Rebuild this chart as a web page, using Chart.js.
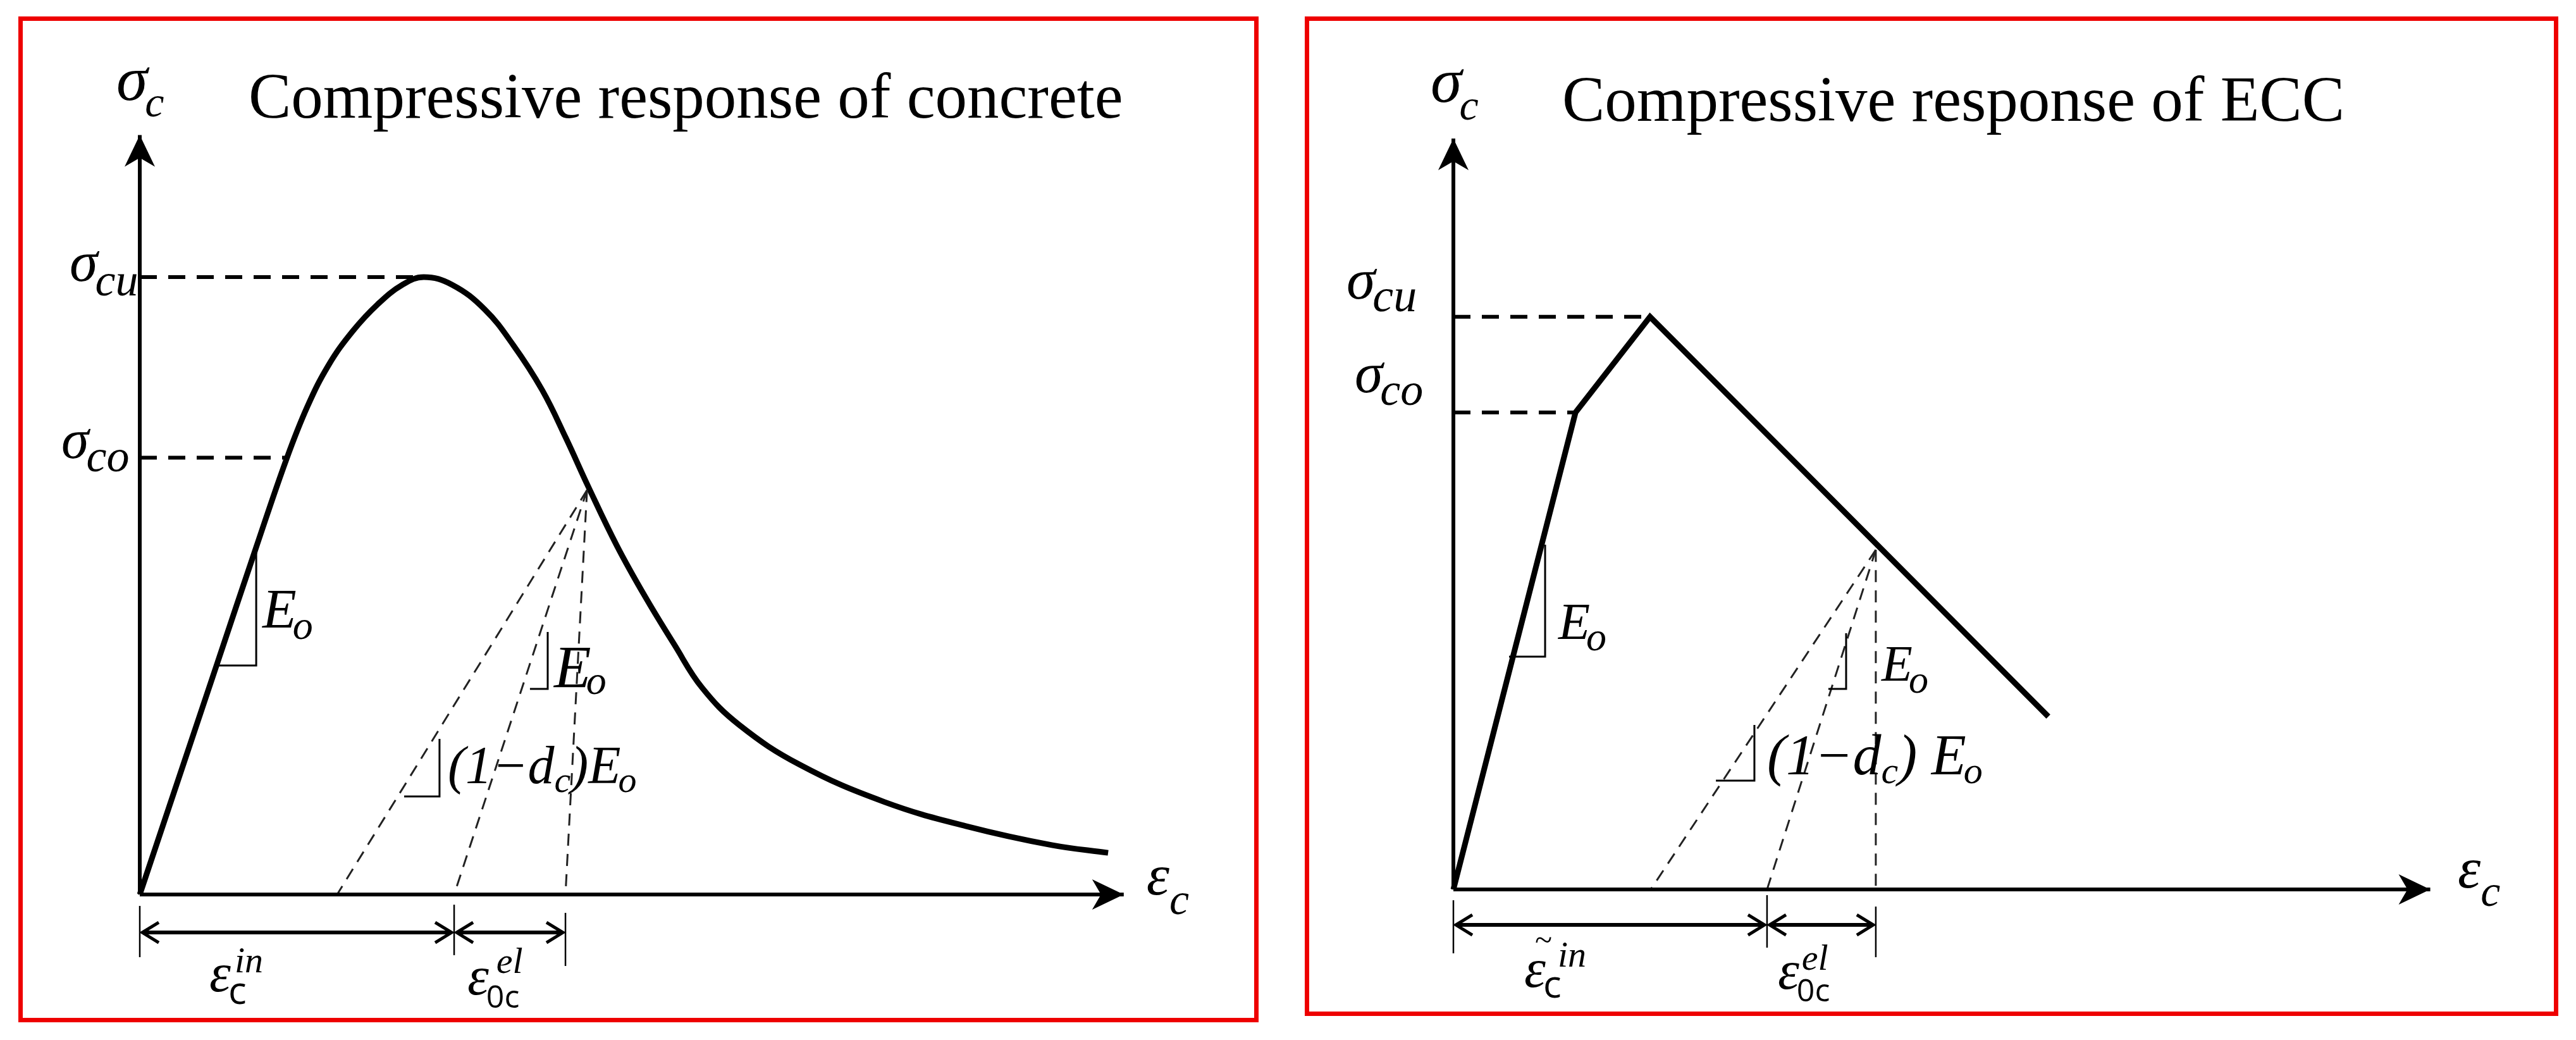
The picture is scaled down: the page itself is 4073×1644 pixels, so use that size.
<!DOCTYPE html>
<html><head><meta charset="utf-8">
<script src="https://cdn.jsdelivr.net/npm/chart.js@4.4.1/dist/chart.umd.min.js"></script>
<style>
html,body{margin:0;padding:0;background:#fff;width:4073px;height:1644px;overflow:hidden}
.frame{position:absolute;border:7px solid #ee0000;box-sizing:border-box}
canvas{position:absolute;top:0}
</style></head><body>
<div class="frame" style="left:29px;top:26px;width:1961px;height:1590px"></div>
<div class="frame" style="left:2063px;top:26px;width:1982px;height:1580px"></div>
<canvas id="cConc" width="2040" height="1644" style="left:0"></canvas>
<canvas id="cEcc" width="2033" height="1644" style="left:2040px"></canvas>
<script>
// ---------------- DATA (strain in ‰-like units, stress in MPa-like units) ----------------
const concStrain = [0, 0.55, 0.82, 1.033, 1.18, 1.33, 1.5, 1.677, 1.85, 2.0, 2.2, 2.43, 2.63, 2.833, 3.0, 3.16, 3.36, 3.559, 3.764, 3.96, 4.22, 4.65, 5.243, 5.831, 6.423, 6.82];
const concStress = [0, 15.1, 22.5, 28.2, 31.6, 34.3, 36.5, 38.25, 39.5, 40.0, 39.5, 37.9, 35.6, 32.7, 29.6, 26.4, 22.6, 19.3, 16.2, 13.4, 11.0, 8.4, 6.0, 4.4, 3.2, 2.7];
const concPeak = [2.0, 40.0];          // (eps at sigma_cu, sigma_cu)
const concYield = [1.033, 28.3];       // (eps at sigma_co, sigma_co)
const concUnload = [3.15, 26.2];       // unloading point on softening branch
const concUnloadEnds = [1.39, 2.214, 2.998]; // axis intercepts: damaged, E0 (inelastic), vertical guide
const concAxisEnd = [6.93, 49.2];

const eccStrain = [0, 0.86, 1.385, 4.19];
const eccStress = [0, 30.9, 37.1, 11.2];
const eccPeak = [1.385, 37.1];
const eccYield = [0.86, 30.9];
const eccUnload = [2.975, 22.0];
const eccUnloadEnds = [1.39, 2.209, 2.975];
const eccAxisEnd = [6.88, 48.65];

const titles = ['Compressive response of concrete', 'Compressive response of ECC'];

// ---------------- helpers ----------------
const K = 224.5, M = 24.4; // px per strain unit, px per stress unit
const SERIF = '"Liberation Serif","Times New Roman",serif';
const SANS = '"Open Sans","DejaVu Sans",sans-serif';
const it = s => `italic ${s}px ${SERIF}`;
const rm = s => `${s}px ${SERIF}`;
const sn = s => `${s}px ${SANS}`;

function scalesFor(ox, oy, left, W, H) {
  const xmin = -(ox - left) / K, ymax = oy / M;
  return {
    x: {type: 'linear', display: false, min: xmin, max: xmin + W / K},
    y: {type: 'linear', display: false, min: ymax - H / M, max: ymax}
  };
}
const pts = (xs, ys) => xs.map((x, i) => ({x, y: ys[i]}));
function ds(data, extra) {
  return Object.assign({data, showLine: true, pointRadius: 0, borderColor: '#000', backgroundColor: '#000',
    fill: false, clip: false, borderWidth: 6, tension: 0}, extra || {});
}
function buildDatasets(strain, stress, peak, yieldP, unload, ends, axisEnd, curved) {
  const arr = [];
  arr.push(ds([{x: 0, y: 0}, {x: axisEnd[0], y: 0}], {borderWidth: 6}));
  arr.push(ds([{x: 0, y: 0}, {x: 0, y: axisEnd[1]}], {borderWidth: 6}));
  arr.push(ds([{x: 0, y: peak[1]}, {x: peak[0] - 0.02, y: peak[1]}], {borderWidth: 6, borderDash: [27, 18]}));
  arr.push(ds([{x: 0, y: yieldP[1]}, {x: yieldP[0], y: yieldP[1]}], {borderWidth: 6, borderDash: [27, 18]}));
  ends.forEach(e => arr.push(ds([{x: unload[0], y: unload[1]}, {x: e, y: 0}], {borderWidth: 3, borderColor: '#222', borderDash: [19, 13]})));
  arr.push(ds(pts(strain, stress), curved ? {borderWidth: 9, tension: 0.4} : {borderWidth: 9, borderJoinStyle: 'miter'}));
  return arr;
}

function drawRich(ctx, x, y, segs) {
  let cx = x, prevStart = x;
  ctx.textBaseline = 'alphabetic';
  ctx.textAlign = 'left';
  segs.forEach(s => {
    ctx.font = s.f;
    const start = s.stack ? prevStart + (s.dx || 0) : cx + (s.dx || 0);
    ctx.fillText(s.t, start, y + (s.dy || 0));
    const end = start + ctx.measureText(s.t).width;
    prevStart = start;
    cx = s.stack ? Math.max(cx, end) : end;
  });
}

const annotPlugin = {
  id: 'annot',
  afterDatasetsDraw(chart, args, o) {
    const ctx = chart.ctx, X = v => chart.scales.x.getPixelForValue(v), Y = v => chart.scales.y.getPixelForValue(v);
    ctx.save();
    ctx.fillStyle = '#000'; ctx.strokeStyle = '#000';
    // axis arrowheads (stealth)
    const head = (tx, ty, dx, dy) => {
      const L = 50, Wd = 24, px = -dy, py = dx;
      ctx.beginPath();
      ctx.moveTo(tx, ty);
      ctx.lineTo(tx - dx * L + px * Wd, ty - dy * L + py * Wd);
      ctx.lineTo(tx - dx * L * 0.72, ty - dy * L * 0.72);
      ctx.lineTo(tx - dx * L - px * Wd, ty - dy * L - py * Wd);
      ctx.closePath(); ctx.fill();
    };
    head(X(o.axisEnd[0]), Y(0), 1, 0);
    head(X(0), Y(o.axisEnd[1]), 0, -1);
    // slope triangles
    ctx.lineWidth = 3; ctx.lineCap = 'butt'; ctx.lineJoin = 'miter';
    o.triangles.forEach(t => {
      ctx.beginPath();
      t.forEach((p, i) => i ? ctx.lineTo(X(p[0]), Y(p[1])) : ctx.moveTo(X(p[0]), Y(p[1])));
      ctx.stroke();
    });
    // dimension arrows
    const d = o.dims, yy = Y(d.y);
    ctx.lineWidth = 2.5;
    d.stops.forEach((s, i) => {
      ctx.beginPath(); ctx.moveTo(X(s), Y(d.ticks[i][0])); ctx.lineTo(X(s), Y(d.ticks[i][1])); ctx.stroke();
    });
    const chev = (tx, dir) => {
      ctx.beginPath();
      ctx.moveTo(tx - dir * 26, yy - 16); ctx.lineTo(tx, yy); ctx.lineTo(tx - dir * 26, yy + 16);
      ctx.stroke();
    };
    for (let i = 0; i < d.stops.length - 1; i++) {
      const a = X(d.stops[i]) + 4, b = X(d.stops[i + 1]) - 4;
      ctx.lineWidth = 6;
      ctx.beginPath(); ctx.moveTo(a, yy); ctx.lineTo(b, yy); ctx.stroke();
      ctx.lineWidth = 5;
      chev(a, -1); chev(b, 1);
    }
    // text
    o.labels.forEach(l => drawRich(ctx, X(l.x), Y(l.y), l.segs));
    ctx.restore();
  }
};

function makeChart(id, left, W, ox, oy, dsets, annot) {
  return new Chart(document.getElementById(id), {
    type: 'scatter',
    data: {datasets: dsets},
    options: {
      responsive: false, animation: false, devicePixelRatio: 1, events: [],
      layout: {padding: 0},
      scales: scalesFor(ox, oy, left, W, 1644),
      plugins: {legend: {display: false}, tooltip: {enabled: false}, annot}
    },
    plugins: [annotPlugin]
  });
}

// ---------------- concrete ----------------
makeChart('cConc', 0, 2040, 221, 1414,
  buildDatasets(concStrain, concStress, concPeak, concYield, concUnload, concUnloadEnds, concAxisEnd, true),
  {
    axisEnd: concAxisEnd,
    triangles: [
      [[0.535, 14.84], [0.82, 14.84], [0.82, 22.46]],
      [[2.748, 13.32], [2.873, 13.32], [2.873, 17.01]],
      [[1.862, 6.35], [2.111, 6.35], [2.111, 10.08]]
    ],
    dims: {y: -2.46, stops: [0, concUnloadEnds[1], concUnloadEnds[2]], ticks: [[-0.74, -4.06], [-0.66, -3.93], [-1.19, -4.63]]},
    labels: [
      {x: -0.165, y: 51.48, segs: [{t: 'σ', f: it(100)}, {t: 'c', f: it(68), dy: 26, dx: -4}]},
      {x: 0.766, y: 50.33, segs: [{t: titles[0], f: rm(101)}]},
      {x: -0.494, y: 39.75, segs: [{t: 'σ', f: it(90)}, {t: 'cu', f: it(72), dy: 23, dx: -4}]},
      {x: -0.552, y: 28.28, segs: [{t: 'σ', f: it(88)}, {t: 'co', f: it(72), dy: 21, dx: -4}]},
      {x: 0.864, y: 17.30, segs: [{t: 'E', f: it(88)}, {t: 'o', f: it(64), dy: 18, dx: -6}]},
      {x: 2.918, y: 13.40, segs: [{t: 'E', f: it(96)}, {t: 'o', f: it(64), dy: 10, dx: -8}]},
      {x: 2.169, y: 7.21, segs: [{t: '(1−d', f: it(84)}, {t: 'c', f: it(58), dy: 14}, {t: ')E', f: it(84)}, {t: 'o', f: it(58), dy: 14, dx: -4}]},
      {x: 7.09, y: 0, segs: [{t: 'ε', f: it(92)}, {t: 'c', f: it(70), dy: 31}]},
      {x: 0.490, y: -6.27, segs: [{t: 'ε', f: it(86)}, {t: 'c', f: sn(60), dy: 20, dx: -4}, {t: 'in', f: it(58), dy: -30, stack: true, dx: 10}]},
      {x: 2.307, y: -6.48, segs: [{t: 'ε', f: it(86)}, {t: '0c', f: sn(50), dy: 21, dx: -4}, {t: 'el', f: it(58), dy: -34, stack: true, dx: 16}]}
    ]
  });

// ---------------- ECC ----------------
makeChart('cEcc', 2040, 2033, 2298, 1406,
  buildDatasets(eccStrain, eccStress, eccPeak, eccYield, eccUnload, eccUnloadEnds, eccAxisEnd, false),
  {
    axisEnd: eccAxisEnd,
    triangles: [
      [[0.392, 15.08], [0.646, 15.08], [0.646, 22.34]],
      [[2.641, 12.99], [2.766, 12.99], [2.766, 16.60]],
      [[1.849, 7.05], [2.120, 7.05], [2.120, 10.66]]
    ],
    dims: {y: -2.30, stops: [0, eccUnloadEnds[1], eccUnloadEnds[2]], ticks: [[-0.70, -4.14], [-0.37, -3.77], [-1.11, -4.39]]},
    labels: [
      {x: -0.160, y: 51.02, segs: [{t: 'σ', f: it(100)}, {t: 'c', f: it(68), dy: 28, dx: -4}]},
      {x: 0.766, y: 49.80, segs: [{t: titles[1], f: rm(101)}]},
      {x: -0.753, y: 38.28, segs: [{t: 'σ', f: it(92)}, {t: 'cu', f: it(74), dy: 20, dx: -4}]},
      {x: -0.695, y: 32.21, segs: [{t: 'σ', f: it(90)}, {t: 'co', f: it(72), dy: 20, dx: -4}]},
      {x: 0.739, y: 16.23, segs: [{t: 'E', f: it(82)}, {t: 'o', f: it(64), dy: 18, dx: -6}]},
      {x: 3.016, y: 13.52, segs: [{t: 'E', f: it(80)}, {t: 'o', f: it(62), dy: 19, dx: -6}]},
      {x: 2.209, y: 7.46, segs: [{t: '(1−d', f: it(90)}, {t: 'c', f: it(60), dy: 14}, {t: ') E', f: it(90)}, {t: 'o', f: it(60), dy: 14, dx: -4}]},
      {x: 7.073, y: 0.12, segs: [{t: 'ε', f: it(92)}, {t: 'c', f: it(70), dy: 29}]},
      {x: 0.499, y: -6.31, segs: [{t: 'ε', f: it(86)}, {t: 'c', f: sn(60), dy: 17, dx: -4}, {t: 'in', f: it(58), dy: -32, stack: true, dx: 23}]},
      {x: 0.575, y: -3.95, segs: [{t: '~', f: rm(50)}]},
      {x: 2.285, y: -6.43, segs: [{t: 'ε', f: it(86)}, {t: '0c', f: sn(50), dy: 20, dx: -4}, {t: 'el', f: it(58), dy: -30, stack: true, dx: 8}]}
    ]
  });
</script>
</body></html>
